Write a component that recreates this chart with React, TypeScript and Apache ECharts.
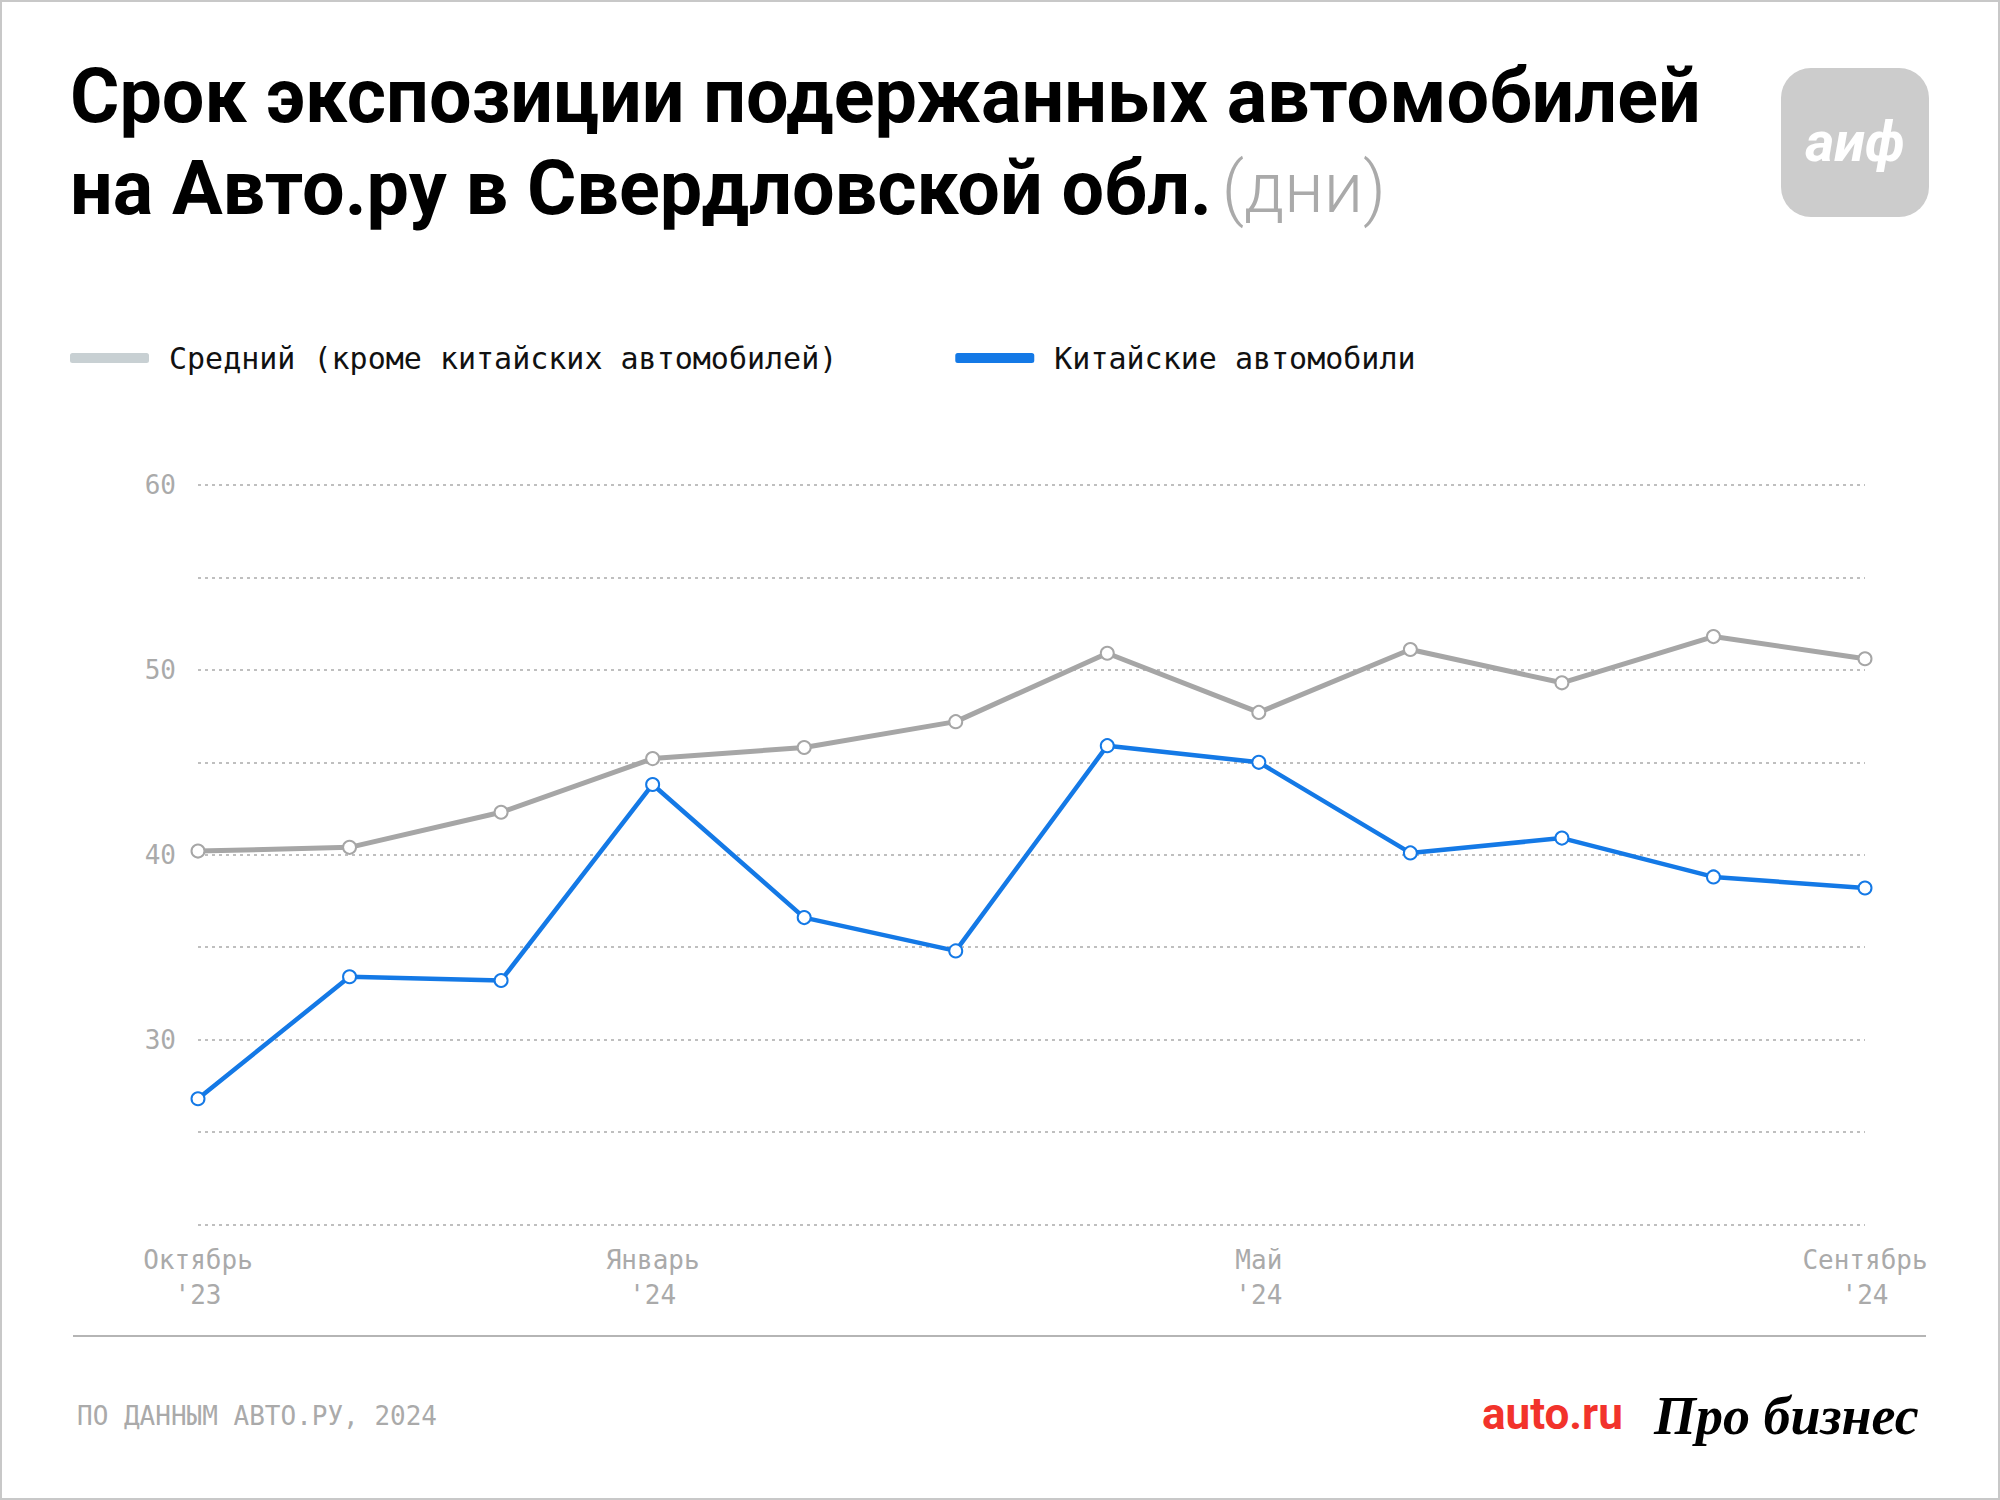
import React, { useEffect, useRef } from "react";
import * as echarts from "echarts";

const months = [
  "Октябрь '23", "Ноябрь '23", "Декабрь '23", "Январь '24", "Февраль '24", "Март '24",
  "Апрель '24", "Май '24", "Июнь '24", "Июль '24", "Август '24", "Сентябрь '24",
];
const tickIndex = [0, 3, 7, 11];
const tickText = ["Октябрь\n'23", "Январь\n'24", "Май\n'24", "Сентябрь\n'24"];
const avgName = "Средний (кроме китайских автомобилей)";
const chinaName = "Китайские автомобили";
const avgValues = [40.2, 40.4, 42.3, 45.2, 45.8, 47.2, 50.9, 47.7, 51.1, 49.3, 51.8, 50.6];
const chinaValues = [26.8, 33.4, 33.2, 43.8, 36.6, 34.8, 45.9, 45.0, 40.1, 40.9, 38.8, 38.2];
const yLabelValues = [30, 40, 50, 60];

const MONO = "'DejaVu Sans Mono', 'Liberation Mono', monospace";
const SANS = "Roboto, Inter, 'Noto Sans', sans-serif";
const GRAY = "#a6a6a6";
const BLUE = "#1479e6";

export default function App() {
  const ref = useRef<HTMLDivElement>(null);
  useEffect(() => {
    document.body.style.margin = "0";
    const chart = echarts.init(ref.current!, null, { renderer: "svg" });
    chart.setOption({
      animation: false,
      backgroundColor: "#ffffff",
      grid: { left: 198, right: 135, top: 485, bottom: 275.5, containLabel: false },
      legend: {
        left: 70,
        top: 343,
        padding: 0,
        icon: "roundRect",
        itemWidth: 79,
        itemHeight: 10,
        itemGap: 118,
        selectedMode: false,
        textStyle: { fontFamily: MONO, fontSize: 30, color: "#111", lineHeight: 30, padding: [0, 0, 0, 15] },
        data: [
          { name: avgName, itemStyle: { color: "#c8d0d3", borderWidth: 0 } },
          { name: chinaName, itemStyle: { color: BLUE, borderWidth: 0 } },
        ],
      },
      xAxis: {
        type: "category",
        data: months,
        boundaryGap: false,
        axisLine: { show: false },
        axisTick: { show: false },
        splitLine: { show: false },
        axisLabel: {
          interval: 0,
          margin: 18,
          color: "#aaaaaa",
          fontFamily: MONO,
          fontSize: 26,
          lineHeight: 35,
          formatter: (_v: string, i: number) => {
            const k = tickIndex.indexOf(i);
            return k >= 0 ? tickText[k] : "";
          },
        },
      },
      yAxis: {
        type: "value",
        min: 20,
        max: 60,
        interval: 5,
        axisLine: { show: false },
        axisTick: { show: false },
        axisLabel: {
          margin: 22,
          color: "#aaaaaa",
          fontFamily: MONO,
          fontSize: 26,
          formatter: (v: number) => (yLabelValues.indexOf(v) >= 0 ? String(v) : ""),
        },
        splitLine: { show: true, lineStyle: { color: "#aaaaaa", width: 1.6, type: [3, 4] } },
      },
      series: [
        {
          name: avgName,
          type: "line",
          data: avgValues,
          symbol: "emptyCircle",
          symbolSize: 13,
          lineStyle: { color: GRAY, width: 5 },
          itemStyle: { color: GRAY, borderWidth: 3 },
          z: 2,
        },
        {
          name: chinaName,
          type: "line",
          data: chinaValues,
          symbol: "emptyCircle",
          symbolSize: 13,
          lineStyle: { color: BLUE, width: 4.5 },
          itemStyle: { color: BLUE, borderWidth: 3 },
          z: 3,
        },
      ],
      graphic: [
        {
          type: "rect",
          shape: { x: 1, y: 1, width: 1998, height: 1498 },
          style: { fill: "none", stroke: "#c8c8c8", lineWidth: 2 },
          silent: true,
        },
        {
          type: "text",
          left: 70,
          top: 58,
          style: {
            text: "Срок экспозиции подержанных автомобилей",
            font: `700 75.5px ${SANS}`,
            fill: "#000",
          },
        },
        {
          type: "text",
          left: 70,
          top: 150,
          style: {
            text: "{a|на Авто.ру в Свердловской обл.}{s| }{b|(дни)}",
            rich: {
              a: { font: `700 75.5px ${SANS}`, fill: "#000" },
              s: { font: `400 40px ${SANS}` },
              b: { font: `300 70px ${SANS}`, fill: "#aaaaaa" },
            },
          },
        },
        {
          type: "rect",
          shape: { x: 1781, y: 68, width: 148, height: 149, r: 30 },
          style: { fill: "#cccccc" },
        },
        {
          type: "text",
          x: 1855,
          y: 142,
          style: {
            text: "аиф",
            font: `italic 700 56px ${SANS}`,
            fill: "#ffffff",
            align: "center",
            verticalAlign: "middle",
          },
        },
        {
          type: "line",
          shape: { x1: 73, y1: 1336, x2: 1926, y2: 1336 },
          style: { stroke: "#b5b5b5", lineWidth: 2 },
        },
        {
          type: "text",
          x: 77,
          y: 1416,
          style: {
            text: "ПО ДАННЫМ АВТО.РУ, 2024",
            font: `400 26px ${MONO}`,
            fill: "#aaaaaa",
            verticalAlign: "middle",
          },
        },
        {
          type: "text",
          x: 1482,
          y: 1414,
          style: {
            text: "auto.ru",
            font: `700 44px ${SANS}`,
            fill: "#f2332b",
            verticalAlign: "middle",
          },
        },
        {
          type: "text",
          x: 1654,
          y: 1416,
          style: {
            text: "Про бизнес",
            font: `italic 700 54px 'Liberation Serif', 'DejaVu Serif', serif`,
            fill: "#000",
            verticalAlign: "middle",
          },
        },
      ],
    });
    return () => chart.dispose();
  }, []);
  return <div ref={ref} style={{ width: 2000, height: 1500 }} />;
}
